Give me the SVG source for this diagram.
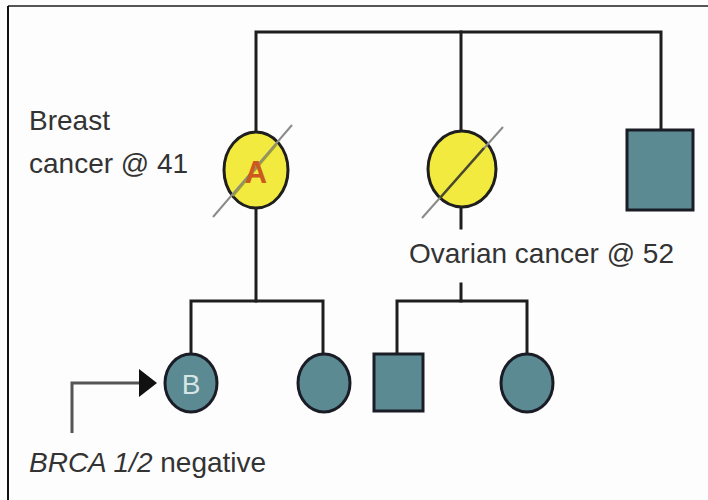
<svg xmlns="http://www.w3.org/2000/svg" width="708" height="500" viewBox="0 0 708 500">
<defs>
<style>
.ln{stroke:#1e1e1e;stroke-width:3;fill:none;stroke-linecap:square}
.aff{fill:#f2ea3e;stroke:#1e1e1e;stroke-width:3}
.unk{fill:#5b8a93;stroke:#1a1d26;stroke-width:3}
.lbl{font-family:"Liberation Sans",Arial,sans-serif;font-size:28px;fill:#333}
.strike{stroke:#8a8a8a;stroke-width:2}
</style>
</defs>
<rect x="0" y="0" width="708" height="500" fill="#fdfdfd"/>
<line x1="8" y1="6" x2="708" y2="6" stroke="#555" stroke-width="2"/>
<line x1="8" y1="6" x2="8" y2="500" stroke="#111" stroke-width="2"/>
<g id="connectors">
<polyline class="ln" points="256,131 256,32 661,32 661,129"/>
<line class="ln" x1="461" y1="32" x2="461" y2="130"/>
<line class="ln" x1="256" y1="209" x2="256" y2="301"/>
<polyline class="ln" points="191,354 191,301 323,301 323,353"/>
<line class="ln" x1="461" y1="208" x2="461" y2="228"/>
<line class="ln" x1="461" y1="284" x2="461" y2="301"/>
<polyline class="ln" points="397,353 397,301 527,301 527,353"/>
<polyline points="72,433 72,383 140,383" fill="none" stroke="#555" stroke-width="3"/>
<polygon points="139,369 157,383 139,397" fill="#111"/>
</g>
<g id="nodeA">
<ellipse class="aff" cx="256" cy="170" rx="32" ry="38"/>
<line class="strike" x1="213" y1="217" x2="292" y2="125"/>
<line x1="233" y1="196" x2="277" y2="144" stroke="#9a9a40" stroke-width="2"/>
<text x="256" y="183" text-anchor="middle" font-family="Liberation Sans,Arial,sans-serif" font-size="31" font-weight="bold" fill="#cc5a1e">A</text>
</g>
<g id="nodeO">
<ellipse class="aff" cx="462" cy="169" rx="34" ry="38"/>
<line class="strike" x1="422" y1="218" x2="503" y2="127"/>
<line x1="440" y1="198" x2="484" y2="148" stroke="#4a4a2a" stroke-width="2.5"/>
</g>
<g id="nodeM">
<rect class="unk" x="627" y="130" width="66" height="80"/>
</g>
<g id="nodeB">
<ellipse class="unk" cx="191" cy="383" rx="26" ry="29"/>
<text x="191" y="394" text-anchor="middle" font-family="Liberation Sans,Arial,sans-serif" font-size="28" fill="#d6e6e6">B</text>
</g>
<g id="nodeC2">
<ellipse class="unk" cx="324" cy="383" rx="26" ry="29"/>
</g>
<g id="nodeS">
<rect class="unk" x="374" y="354" width="49" height="57"/>
</g>
<g id="nodeC4">
<ellipse class="unk" cx="527" cy="383" rx="26" ry="29"/>
</g>
<g id="labels">
<text class="lbl" x="29" y="130">Breast</text>
<text class="lbl" x="29" y="173">cancer @ 41</text>
<text class="lbl" x="409" y="263">Ovarian cancer @ 52</text>
<text class="lbl" x="29" y="472" font-size="29"><tspan font-style="italic">BRCA 1/2</tspan> negative</text>
</g>
</svg>
